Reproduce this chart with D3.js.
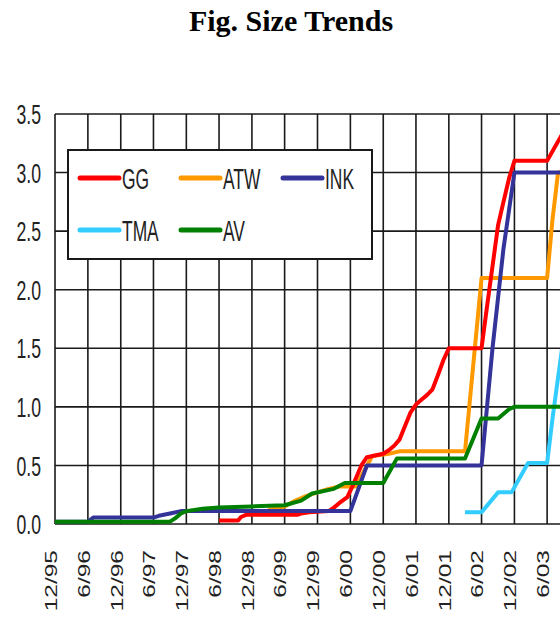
<!DOCTYPE html>
<html>
<head>
<meta charset="utf-8">
<script src="https://cdnjs.cloudflare.com/ajax/libs/d3/7.8.5/d3.min.js"></script>
<style>
body { margin: 0; background: #fff; }
svg { display: block; }
</style>
</head>
<body>
<svg id="svg" width="560" height="619"></svg>
<script>
var width = 560;
var height = 619;

// tick labels along the bottom (every 6 months)
var xTickLabels = ['12/95','6/96','12/96','6/97','12/97','6/98','12/98','6/99','12/99','6/00','12/00','6/01','12/01','6/02','12/02','6/03'];
var xDomain = ['12/95', '12/03'];
var yTicks = [0, 0.5, 1, 1.5, 2, 2.5, 3, 3.5];

var seriesNames = ['GG','ATW','INK','TMA','AV'];
var seriesColors = ['#ff0000','#ff9900','#333399','#33ccff','#008000'];

var ggData = [
    ['1998-06-01',0.03],['1998-09-15',0.03],['1998-10-01',0.06],['1998-11-01',0.08],['1999-08-15',0.08],
    ['1999-09-01',0.09],['1999-10-15',0.10],['2000-02-01',0.11],['2000-03-01',0.14],['2000-04-01',0.18],
    ['2000-05-15',0.23],['2000-06-15',0.33],['2000-08-01',0.50],['2000-09-01',0.57],['2000-12-01',0.60],
    ['2001-01-01',0.63],['2001-02-01',0.67],['2001-03-01',0.72],['2001-05-01',0.95],['2001-06-01',1.02],
    ['2001-07-01',1.06],['2001-08-01',1.10],['2001-09-01',1.15],['2001-10-01',1.27],['2001-11-01',1.40],
    ['2001-12-01',1.50],['2002-06-01',1.50],['2002-07-01',1.85],['2002-08-01',2.20],['2002-09-01',2.55],
    ['2002-10-01',2.75],['2002-11-01',2.95],['2002-12-01',3.10],['2003-06-01',3.10],['2003-09-01',3.35]
];
var atwData = [
    ['1999-03-01',0.12],['1999-06-01',0.15],['1999-08-01',0.20],['1999-10-01',0.24],['1999-12-01',0.27],
    ['2000-02-01',0.30],['2000-04-01',0.32],['2000-07-01',0.32],['2000-08-15',0.45],['2000-10-01',0.58],
    ['2001-01-01',0.60],['2001-03-01',0.62],['2002-03-01',0.62],['2002-06-01',2.10],['2003-06-01',2.10],
    ['2003-07-01',2.60],['2003-08-01',3.00],['2003-12-01',3.00]
];
var inkData = [
    ['1995-12-01',0.02],['1996-06-01',0.02],['1996-07-01',0.055],['1997-06-01',0.055],['1997-07-01',0.07],
    ['1997-09-01',0.09],['1997-11-01',0.11],['1998-01-01',0.11],['2000-06-01',0.11],['2000-09-01',0.50],
    ['2002-06-01',0.50],['2002-08-01',1.50],['2002-10-01',2.35],['2002-12-01',3.00],['2003-12-01',3.00]
];
var tmaData = [
    ['2002-03-01',0.10],['2002-06-01',0.10],['2002-09-01',0.27],['2002-11-15',0.27],['2003-02-15',0.52],
    ['2003-06-01',0.52],['2003-07-01',0.90],['2003-09-01',1.60]
];
var avData = [
    ['1995-12-01',0.02],['1997-09-01',0.02],['1997-10-01',0.05],['1997-11-01',0.09],['1997-12-01',0.11],
    ['1998-03-01',0.13],['1998-06-01',0.14],['1998-12-01',0.15],['1999-06-01',0.16],['1999-09-01',0.20],
    ['1999-11-01',0.26],['2000-03-01',0.30],['2000-05-01',0.35],['2000-12-01',0.35],['2001-02-15',0.56],
    ['2002-03-01',0.56],['2002-06-01',0.90],['2002-09-01',0.90],['2002-11-01',0.98],['2002-12-01',1.00],
    ['2003-12-01',1.00]
];
var allData = [ggData, atwData, inkData, tmaData, avData];

var parseDay = d3.timeParse('%Y-%m-%d');
var parseTick = d3.timeParse('%m/%y');

var marginLeft = 55;
var marginTop = 114;
var plotBottom = 524;
var plotRight = 580;   // last gridline sits just past the window edge

var svg = d3.select('svg');

var x = d3.scaleTime()
    .domain(xDomain.map(parseTick))
    .range([marginLeft, plotRight]);

var y = d3.scaleLinear()
    .domain([0, 3.5])
    .range([plotBottom, marginTop]);

// title
svg.append('text')
    .text('Fig. Size Trends')
    .attr('x', 291)
    .attr('y', 31)
    .style('text-anchor','middle')
    .style('font-family','"Liberation Serif", "Times New Roman", serif')
    .style('font-weight','bold')
    .style('font-size','30px')
    .style('fill','#000');

// grid
svg.append('g').selectAll('line')
    .data(yTicks)
    .enter()
    .append('line')
    .attr('x1', marginLeft)
    .attr('x2', plotRight)
    .attr('y1', function(d){return y(d)})
    .attr('y2', function(d){return y(d)})
    .attr('stroke','#1a1a1a')
    .attr('stroke-width', 1.6);

svg.append('g').selectAll('line')
    .data(xTickLabels)
    .enter()
    .append('line')
    .attr('x1', function(d){return x(parseTick(d))})
    .attr('x2', function(d){return x(parseTick(d))})
    .attr('y1', marginTop)
    .attr('y2', plotBottom)
    .attr('stroke','#1a1a1a')
    .attr('stroke-width', 1.6);

// y labels (narrow, tall lettering)
svg.append('g').selectAll('text')
    .data(yTicks)
    .enter()
    .append('text')
    .text(function(d){return d3.format('.1f')(d)})
    .attr('transform', function(d){return 'translate(41,' + y(d) + ') scale(0.63,1)'})
    .attr('dy','0.36em')
    .style('text-anchor','end')
    .style('font-family','"Liberation Sans", Arial, sans-serif')
    .style('font-size','28px')
    .style('fill','#222');

// x labels, rotated
svg.append('g').selectAll('text')
    .data(xTickLabels)
    .enter()
    .append('text')
    .text(function(d){return d})
    .attr('transform', function(d){return 'translate(' + (x(parseTick(d)) + 1.8) + ',550) rotate(-90) scale(1,0.66)'})
    .style('text-anchor','end')
    .style('font-family','"Liberation Sans", Arial, sans-serif')
    .style('font-size','24.5px')
    .style('fill','#222');

// series lines
var line = d3.line()
    .x(function(d){return x(parseDay(d[0]))})
    .y(function(d){return y(d[1])});

// drawing order: ATW at the back, AV on top
var drawOrder = [1, 0, 2, 3, 4];
svg.append('g').selectAll('path')
    .data(drawOrder)
    .enter()
    .append('path')
    .attr('d', function(i){return line(allData[i])})
    .attr('fill','none')
    .attr('stroke', function(i){return seriesColors[i]})
    .attr('stroke-width', 4)
    .attr('stroke-linejoin','round');

// legend
var legend = svg.append('g');

legend.append('rect')
    .attr('x', 68)
    .attr('y', 150)
    .attr('width', 304)
    .attr('height', 109)
    .attr('fill','#fff')
    .attr('stroke','#1a1a1a')
    .attr('stroke-width', 2);

var legendCols = [80, 181, 283];
var legendRows = [178, 230];

var item = legend.selectAll('g.item')
    .data(seriesNames)
    .enter()
    .append('g')
    .attr('class','item')
    .attr('transform', function(d, i){
        return 'translate(' + legendCols[i % 3] + ',' + legendRows[Math.floor(i / 3)] + ')';
    });

item.append('line')
    .attr('x1', 0)
    .attr('x2', 39)
    .attr('stroke', function(d, i){return seriesColors[i]})
    .attr('stroke-width', 5)
    .attr('stroke-linecap','round');

item.append('text')
    .text(function(d){return d})
    .attr('transform','translate(42,0) scale(0.58,1)')
    .attr('dy','0.36em')
    .style('font-family','"Liberation Sans", Arial, sans-serif')
    .style('font-size','30px')
    .style('fill','#222');
</script>
</body>
</html>
